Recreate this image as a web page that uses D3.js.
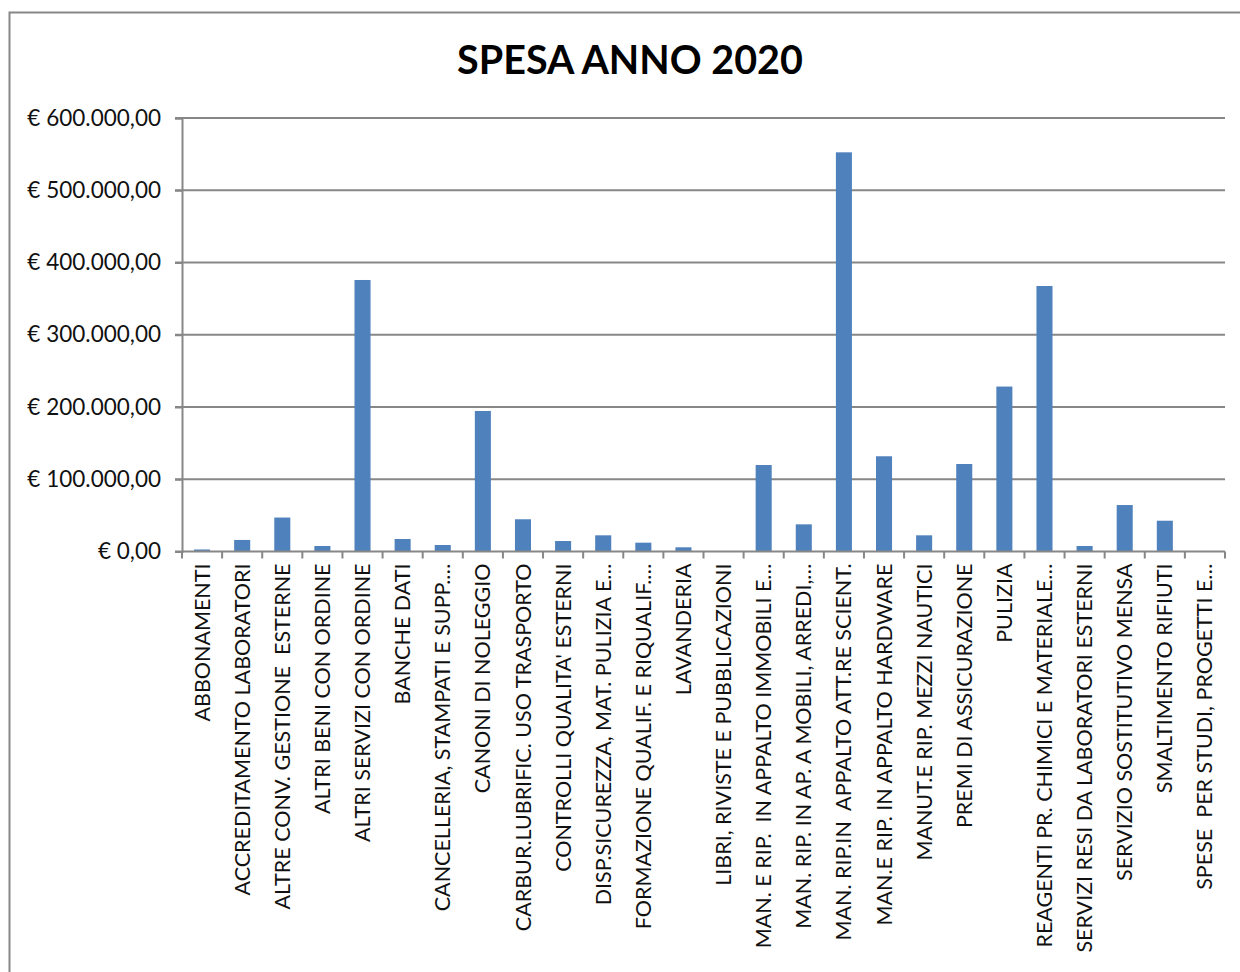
<!DOCTYPE html>
<html>
<head>
<meta charset="utf-8">
<script src="https://cdn.jsdelivr.net/npm/d3@7"></script>
<style>
  html, body { margin: 0; padding: 0; background: #fff; }
  svg text { font-family: Lato, "Open Sans", sans-serif; }
</style>
</head>
<body>
<svg id="chart" width="1240" height="972"></svg>
<script>
const title = "SPESA ANNO 2020";
const categories = [
  "ABBONAMENTI",
  "ACCREDITAMENTO LABORATORI",
  "ALTRE CONV. GESTIONE  ESTERNE",
  "ALTRI BENI CON ORDINE",
  "ALTRI SERVIZI CON ORDINE",
  "BANCHE DATI",
  "CANCELLERIA, STAMPATI E SUPP.…",
  "CANONI DI NOLEGGIO",
  "CARBUR.LUBRIFIC. USO TRASPORTO",
  "CONTROLLI QUALITA' ESTERNI",
  "DISP.SICUREZZA, MAT. PULIZIA E…",
  "FORMAZIONE QUALIF. E RIQUALIF.…",
  "LAVANDERIA",
  "LIBRI, RIVISTE E PUBBLICAZIONI",
  "MAN. E RIP.  IN APPALTO IMMOBILI E…",
  "MAN. RIP. IN AP. A MOBILI, ARREDI,…",
  "MAN. RIP.IN  APPALTO ATT.RE SCIENT.",
  "MAN.E RIP. IN APPALTO HARDWARE",
  "MANUT.E RIP. MEZZI NAUTICI",
  "PREMI DI ASSICURAZIONE",
  "PULIZIA",
  "REAGENTI PR. CHIMICI E MATERIALE…",
  "SERVIZI RESI DA LABORATORI ESTERNI",
  "SERVIZIO SOSTITUTIVO MENSA",
  "SMALTIMENTO RIFIUTI",
  "SPESE  PER STUDI, PROGETTI E…"
];
const values = [
  2800, 16000, 47000, 7600, 375800, 17300, 9000, 194500, 44600, 14500,
  22400, 12200, 5800, 0, 119700, 37600, 552500, 131800, 22400, 121100,
  228300, 367500, 7600, 64300, 42600, 0
];
const yTicks = [0, 100000, 200000, 300000, 400000, 500000, 600000];

const svg = d3.select("#chart");
const W = 1240, H = 972;
const plot = { left: 182, right: 1225, top: 118, bottom: 551.5 };
const FSY = 22.5, FSX = 21.5;

// chart border
svg.append("rect")
  .attr("x", 9.5).attr("y", 12.5)
  .attr("width", W + 20).attr("height", H + 20)
  .attr("fill", "#fff").attr("stroke", "#878787").attr("stroke-width", 2);

const xb = d3.scaleBand().domain(categories).range([plot.left, plot.right]);
const y = d3.scaleLinear().domain([0, 600000]).range([plot.bottom, plot.top]);

const locale = d3.formatLocale({ decimal: ",", thousands: ".", grouping: [3], currency: ["€ ", ""] });
const fmt = locale.format("$,.2f");

// gridlines
svg.append("g").selectAll("line").data(yTicks.filter(d => d > 0)).join("line")
  .attr("x1", plot.left - 7).attr("x2", plot.right)
  .attr("y1", d => y(d)).attr("y2", d => y(d))
  .attr("stroke", "#878787").attr("stroke-width", 2);

// bars
svg.append("g").selectAll("rect").data(categories).join("rect")
  .attr("x", d => xb(d) + xb.bandwidth() * 0.3)
  .attr("width", xb.bandwidth() * 0.4)
  .attr("y", (d, i) => y(values[i]))
  .attr("height", (d, i) => y(0) - y(values[i]))
  .attr("fill", "#4F81BD");

// y axis
const yAxis = svg.append("g").attr("transform", `translate(${plot.left},0)`)
  .call(d3.axisLeft(y).tickValues(yTicks).tickFormat(fmt).tickSize(7).tickPadding(14));
yAxis.select(".domain").attr("stroke", "#878787").attr("stroke-width", 2);
yAxis.selectAll(".tick line").attr("stroke", "#878787").attr("stroke-width", 2);
yAxis.selectAll(".tick text").attr("font-size", FSY).attr("fill", "#111").attr("font-family", "Lato");

// x axis
const xAxisG = svg.append("g").attr("transform", `translate(0,${plot.bottom})`);
xAxisG.append("line").attr("x1", plot.left - 7).attr("x2", plot.right)
  .attr("stroke", "#878787").attr("stroke-width", 2);
const bounds = d3.range(categories.length + 1).map(i => plot.left + i * xb.step());
xAxisG.selectAll("line.tk").data(bounds).join("line").attr("class", "tk")
  .attr("x1", d => d).attr("x2", d => d).attr("y1", 0).attr("y2", 7)
  .attr("stroke", "#878787").attr("stroke-width", 2);
xAxisG.selectAll("text").data(categories).join("text")
  .attr("transform", d => `translate(${xb(d) + xb.bandwidth() / 2},12) rotate(-90)`)
  .attr("text-anchor", "end").attr("dy", "0.35em")
  .attr("font-size", FSX).attr("fill", "#111")
  .style("white-space", "pre")
  .text(d => d);

// title
svg.append("text").attr("x", 630).attr("y", 74)
  .attr("text-anchor", "middle").attr("font-size", 39.5).attr("font-weight", "bold")
  .attr("fill", "#000").text(title);
</script>
</body>
</html>
